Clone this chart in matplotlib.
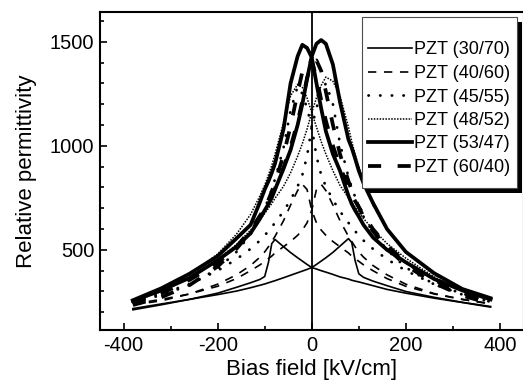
import matplotlib
matplotlib.use("Agg")
import matplotlib.pyplot as plt
from matplotlib.ticker import MultipleLocator
from matplotlib.patches import Rectangle

plt.rcParams['font.family'] = ['Liberation Sans', 'DejaVu Sans']
plt.rcParams['axes.unicode_minus'] = False

# Bias field grid [kV/cm]
X = [-380, -320, -260, -200, -160, -130, -110, -100, -92, -85, -78, -60, -45, -30, -20, -10,
     0, 10, 20, 30, 45, 60, 78, 85, 92, 100, 110, 130, 160, 200, 260, 320, 380]

labels = ["PZT (30/70)", "PZT (40/60)", "PZT (45/55)", "PZT (48/52)", "PZT (53/47)", "PZT (60/40)"]

# branch A: peak at negative field, branch B: peak at positive field
pzt3070_a = [212, 236, 262, 292, 320, 342, 358, 372, 440, 530, 550, 515, 487, 462, 446, 430,
             415, 408, 400, 393, 382, 370, 360, 354, 350, 346, 340, 328, 310, 292, 268, 247, 225]
pzt3070_b = [218, 240, 262, 285, 302, 318, 330, 336, 342, 347, 352, 366, 378, 390, 398, 406,
             415, 430, 446, 462, 488, 518, 554, 535, 450, 385, 368, 350, 328, 300, 272, 248, 228]

pzt4060_a = [236, 255, 288, 335, 380, 425, 465, 490, 515, 540, 565, 640, 715, 785, 815, 790,
             690, 630, 595, 570, 540, 515, 485, 470, 458, 445, 428, 400, 362, 325, 288, 262, 240]
pzt4060_b = [240, 262, 288, 325, 362, 400, 428, 445, 458, 470, 485, 515, 540, 570, 595, 630,
             690, 790, 815, 785, 715, 640, 565, 540, 515, 490, 465, 425, 380, 335, 290, 262, 242]

pzt4555_a = [248, 282, 330, 410, 490, 575, 650, 700, 745, 790, 840, 990, 1170, 1285, 1250, 1180,
             1090, 950, 860, 805, 740, 685, 630, 610, 590, 570, 545, 505, 455, 400, 335, 290, 250]
pzt4555_b = [252, 290, 335, 400, 455, 505, 545, 570, 590, 610, 630, 685, 740, 805, 860, 950,
             1090, 1180, 1260, 1300, 1200, 1010, 850, 800, 755, 710, 660, 585, 500, 415, 335, 285, 250]

pzt4852_a = [255, 305, 380, 480, 575, 670, 760, 810, 860, 905, 960, 1110, 1240, 1295, 1280, 1230,
             1160, 1090, 1020, 960, 880, 810, 750, 725, 705, 680, 650, 600, 530, 460, 370, 305, 258]
pzt4852_b = [252, 300, 365, 455, 525, 595, 645, 675, 700, 722, 748, 805, 870, 950, 1010, 1080,
             1160, 1230, 1290, 1330, 1310, 1240, 1090, 1020, 960, 900, 830, 715, 595, 490, 380, 310, 258]

pzt5347_a = [258, 315, 385, 470, 555, 620, 730, 790, 830, 870, 915, 1080, 1300, 1430, 1485, 1470,
             1425, 1300, 1180, 1070, 960, 880, 760, 720, 690, 660, 620, 560, 500, 440, 360, 305, 262]
pzt5347_b = [255, 305, 365, 450, 515, 580, 650, 690, 720, 750, 790, 890, 980, 1100, 1200, 1320,
             1430, 1490, 1508, 1490, 1390, 1210, 1030, 990, 940, 880, 820, 726, 600, 490, 388, 312, 268]

pzt6040_a = [235, 272, 330, 420, 505, 585, 655, 700, 740, 780, 825, 955, 1095, 1255, 1355, 1412,
             1405, 1330, 1220, 1120, 1000, 900, 800, 765, 735, 705, 670, 600, 520, 440, 355, 295, 245]
pzt6040_b = [240, 290, 355, 435, 515, 595, 665, 700, 730, 760, 795, 895, 995, 1115, 1215, 1325,
             1400, 1410, 1360, 1260, 1100, 960, 830, 785, 745, 705, 660, 590, 510, 425, 340, 280, 242]

series = [(pzt3070_a, pzt3070_b), (pzt4060_a, pzt4060_b), (pzt4555_a, pzt4555_b),
          (pzt4852_a, pzt4852_b), (pzt5347_a, pzt5347_b), (pzt6040_a, pzt6040_b)]

styles = [
    dict(lw=1.2, ls='-'),
    dict(lw=1.2, ls=(0, (5.0, 4.6))),
    dict(lw=2.0, ls=(0, (0.1, 4.1)), dash_capstyle='round'),
    dict(lw=1.1, ls=(0, (1, 0.9))),
    dict(lw=2.7, ls='-'),
    dict(lw=2.7, ls=(0, (3.5, 4.4))),
]

W, H = 523, 381
fig = plt.figure(figsize=(W / 100, H / 100), dpi=100)
ax_l, ax_b, ax_w, ax_h = 100, 51, 423.5, 318.5
ax = fig.add_axes([ax_l / W, ax_b / H, ax_w / W, ax_h / H])

ax.axvline(0, color='black', lw=1.3, zorder=1)

handles = []
for (ya, yb), st, lab in zip(series, styles, labels):
    h, = ax.plot(X, ya, color='black', label=lab, **st)
    ax.plot(X, yb, color='black', **st)
    handles.append(h)

ax.set_xlim(-450, 450)
ax.set_ylim(115, 1645)
ax.xaxis.set_major_locator(MultipleLocator(200))
ax.xaxis.set_minor_locator(MultipleLocator(100))
ax.yaxis.set_major_locator(MultipleLocator(500))
ax.yaxis.set_minor_locator(MultipleLocator(100))
ax.tick_params(which='both', direction='in', top=False, right=False, labelsize=14.5, width=1.2)
ax.tick_params(which='major', length=5, pad=4)
ax.tick_params(which='minor', length=3)
for s in ax.spines.values():
    s.set_linewidth(1.5)

ax.set_xlabel("Bias field [kV/cm]", fontsize=16, labelpad=3)
ax.set_ylabel("Relative permittivity", fontsize=16, labelpad=9)

# legend box (pixel geometry converted to axes fraction)
def fx(px):
    return (px - ax_l) / ax_w

def fy(py):
    return (H - ax_b - py) / ax_h

bx0, bx1, by0, by1 = 362, 517, 17, 188
off = 5
shadow = Rectangle((fx(bx0 + off), fy(by1 + off)), fx(bx1) - fx(bx0), fy(by0) - fy(by1),
                   transform=ax.transAxes, facecolor='black', edgecolor='none',
                   zorder=5, clip_on=False)
box = Rectangle((fx(bx0), fy(by1)), fx(bx1) - fx(bx0), fy(by0) - fy(by1),
                transform=ax.transAxes, facecolor='white', edgecolor='0.3', lw=0.8,
                zorder=6, clip_on=False)
ax.add_patch(shadow)
ax.add_patch(box)

leg = ax.legend(handles=handles, loc='upper left', bbox_to_anchor=(fx(368), fy(41.5)),
                fontsize=13, frameon=False, handlelength=2.45,
                handletextpad=0.08, labelspacing=0.36, borderpad=0, borderaxespad=0)
leg.set_zorder(7)

fig.savefig("out.png", dpi=100)
